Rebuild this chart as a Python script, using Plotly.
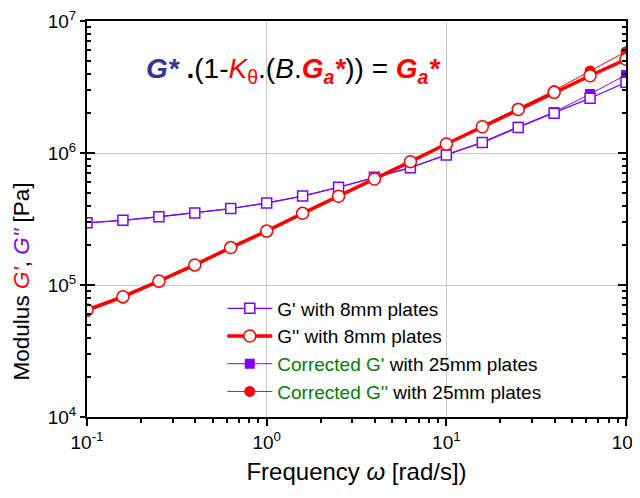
import plotly.graph_objects as go

freq = [0.1, 0.1585, 0.2512, 0.3981, 0.631, 1.0, 1.585, 2.512, 3.981, 6.31,
        10.0, 15.85, 25.12, 39.81, 63.1, 100.0]
g1_8mm = [2.96e5, 3.09e5, 3.29e5, 3.51e5, 3.79e5, 4.18e5, 4.72e5, 5.50e5, 6.54e5, 7.74e5,
          9.66e5, 1.20e6, 1.56e6, 2.00e6, 2.60e6, 3.43e6]
g2_8mm = [6.47e4, 8.16e4, 1.07e5, 1.42e5, 1.92e5, 2.56e5, 3.49e5, 4.70e5, 6.35e5, 8.60e5,
          1.17e6, 1.58e6, 2.14e6, 2.88e6, 3.85e6, 5.13e6]
g1_25mm = [2.96e5, 3.09e5, 3.29e5, 3.51e5, 3.79e5, 4.18e5, 4.72e5, 5.50e5, 6.54e5, 7.74e5,
           9.70e5, 1.21e6, 1.58e6, 2.04e6, 2.80e6, 3.90e6]
g2_25mm = [6.3e4, 7.95e4, 1.05e5, 1.40e5, 1.90e5, 2.54e5, 3.47e5, 4.68e5, 6.33e5, 8.62e5,
           1.18e6, 1.60e6, 2.18e6, 2.97e6, 4.18e6, 5.86e6]
x_tickvals = [0.1, 1, 10, 100]
x_ticktext = ["10<sup>-1</sup>", "10<sup>0</sup>", "10<sup>1</sup>", "10<sup>2</sup>"]
y_tickvals = [1e4, 1e5, 1e6, 1e7]
y_ticktext = ["10<sup>4</sup>", "10<sup>5</sup>", "10<sup>6</sup>", "10<sup>7</sup>"]

PURPLE = "#8000ff"
RED = "#ff0000"
GREEN = "#008000"
FONT = "Arial, Liberation Sans, sans-serif"

fig = go.Figure()
fig.add_trace(go.Scatter(
    x=freq, y=g1_25mm, mode="lines+markers", legendrank=3,
    name=f"<span style='color:{GREEN}'>Corrected G'</span> with 25mm plates",
    line=dict(color=PURPLE, width=1),
    marker=dict(symbol="square", size=10, color=PURPLE)))
fig.add_trace(go.Scatter(
    x=freq, y=g2_25mm, mode="lines+markers", legendrank=4,
    name=f"<span style='color:{GREEN}'>Corrected G''</span> with 25mm plates",
    line=dict(color=RED, width=1),
    marker=dict(symbol="circle", size=11, color=RED)))
fig.add_trace(go.Scatter(
    x=freq, y=g1_8mm, mode="lines+markers", legendrank=1,
    name="G' with 8mm plates",
    line=dict(color=PURPLE, width=1.3),
    marker=dict(symbol="square", size=10, color="white",
                line=dict(width=1.5, color=PURPLE))))
fig.add_trace(go.Scatter(
    x=freq, y=g2_8mm, mode="lines+markers", legendrank=2,
    name="G'' with 8mm plates",
    line=dict(color=RED, width=3.5),
    marker=dict(symbol="circle", size=12, color="white",
                line=dict(width=1.5, color=RED))))
# invisible trace to carry the inner tick axis
fig.add_trace(go.Scatter(x=[1], y=[1e5], yaxis="y2", mode="markers",
                         marker=dict(opacity=0), showlegend=False, hoverinfo="skip"))

# white backdrop behind legend (hides gridlines)
fig.add_shape(type="rect", xref="paper", yref="paper", x0=0.173, x1=1.0, y0=0.0, y1=0.343,
              fillcolor="white", line=dict(width=0), layer="between")

eq = (f"<b><i><span style='color:#333399'>G*</span></i></b> <b>.</b>(1-"
      f"<i><span style='color:{RED}'>K</span></i><span style='color:{RED}'><sub>θ</sub></span>.(<i>B</i>.<b><i><span style='color:{RED}'>G<sub>a</sub>*</span></i></b>))"
      f" = <b><i><span style='color:{RED}'>G<sub>a</sub>*</span></i></b>")
fig.add_annotation(text=eq, xref="paper", yref="paper", x=0.383, y=0.875,
                   xanchor="center", yanchor="middle", showarrow=False,
                   font=dict(family=FONT, size=28, color="black"))

# y axis title (placed as annotation, offset like the reference)
fig.add_annotation(
    text=f"Modulus <i><span style='color:{RED}'>G'</span></i>, <i><span style='color:{PURPLE}'>G''</span></i> [Pa]",
    xref="paper", yref="paper", x=-0.122, y=0.343, textangle=-90,
    xanchor="center", yanchor="middle", showarrow=False,
    font=dict(family=FONT, size=22.5, color="black"))

fig.update_layout(
    width=632, height=490,
    margin=dict(l=79, r=14, t=13, b=81),
    paper_bgcolor="white", plot_bgcolor="white",
    font=dict(family=FONT, color="black"),
    legend=dict(x=0.251, y=0.322, xanchor="left", yanchor="top",
                bgcolor="rgba(0,0,0,0)", font=dict(size=19, family=FONT),
                itemwidth=45, tracegroupgap=0),
    showlegend=True,
    xaxis=dict(
        type="log", range=[-1, 2], tickvals=x_tickvals, ticktext=x_ticktext,
        showline=True, linecolor="black", linewidth=1.5, mirror=True,
        ticks="outside", ticklen=7, tickwidth=1.5, tickcolor="black",
        minor=dict(ticks="outside", ticklen=4, tickcolor="black", showgrid=False, dtick="D1"),
        showgrid=True, gridcolor="#c8c8c8", gridwidth=1, zeroline=False,
        tickfont=dict(size=19, family=FONT), ticklabeloverflow="allow", automargin=False,
        title=dict(text="Frequency <i>ω</i> [rad/s])", font=dict(size=24, family=FONT), standoff=12),
    ),
    yaxis=dict(
        type="log", range=[4, 7], tickvals=y_tickvals, ticktext=y_ticktext,
        showline=True, linecolor="black", linewidth=2, mirror=True,
        ticks="outside", ticklen=5, tickwidth=1.5, tickcolor="black",
        showgrid=True, gridcolor="#c8c8c8", gridwidth=1, zeroline=False,
        tickfont=dict(size=19, family=FONT), ticklabeloverflow="allow", automargin=False,
    ),
    yaxis2=dict(
        type="log", range=[4, 7], overlaying="y", anchor="x", side="left",
        tickvals=y_tickvals, showticklabels=False, showgrid=False, zeroline=False,
        showline=False, mirror="ticks",
        ticks="inside", ticklen=8, tickwidth=1.5, tickcolor="black",
        minor=dict(ticks="inside", ticklen=4, tickcolor="black", showgrid=False, dtick="D1"),
        automargin=False,
    ),
)

fig.write_html("out.html")
